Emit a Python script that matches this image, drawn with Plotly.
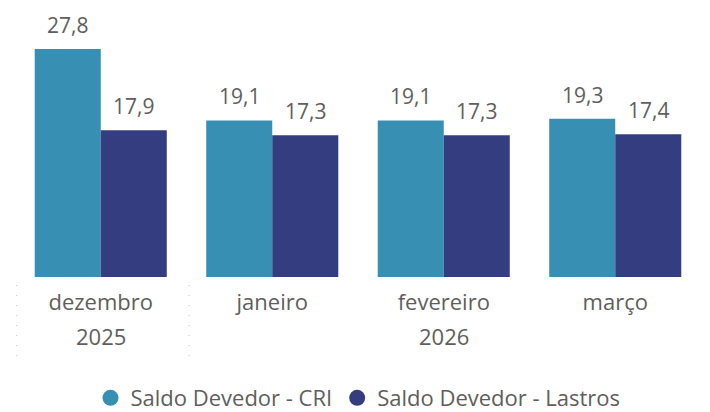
import plotly.graph_objects as go

months = ["dezembro", "janeiro", "fevereiro", "março"]
years = ["2025", "2026"]
year_spans = [[0, 0], [1, 3]]  # category index range per year group
series_names = ["Saldo Devedor - CRI", "Saldo Devedor - Lastros"]
cri = [27.8, 19.1, 19.1, 19.3]
lastros = [17.9, 17.3, 17.3, 17.4]

colors = ["#378FB4", "#343D80"]
text_color = "#605E5C"
font_family = "Open Sans"
fs = 22

idx = list(range(len(months)))
bar_w = 0.385

fig = go.Figure()
series = [cri, lastros]
offsets = [-bar_w, 0.0]
for name, vals, col, off in zip(series_names, series, colors, offsets):
    fig.add_trace(go.Bar(x=idx, y=vals, width=bar_w, offset=off,
                         marker=dict(color=col, line=dict(width=0)),
                         showlegend=False, name=name, hoverinfo="skip"))
    for i, v in zip(idx, vals):
        fig.add_annotation(x=i + off + bar_w / 2, y=v, xref="x", yref="y",
                           text=f"{v:.1f}".replace(".", ","), showarrow=False,
                           yanchor="middle", yshift=24,
                           font=dict(size=21, color=text_color, family=font_family))

# legend entries (circle markers)
for name, col in zip(series_names, colors):
    fig.add_trace(go.Scatter(x=[None], y=[None], mode="markers", name=name,
                             marker=dict(symbol="circle", size=20, color=col)))

# year group labels and separators
for yr, (a, b) in zip(years, year_spans):
    fig.add_annotation(x=(a + b) / 2, y=-0.24, xref="x", yref="paper",
                       text=yr, showarrow=False, yanchor="middle",
                       font=dict(size=fs, color=text_color, family=font_family))
bounds = [-0.49, 0.515, 3.51]
for bx in bounds:
    fig.add_shape(type="line", xref="x", yref="paper", x0=bx, x1=bx,
                  y0=-0.033, y1=-0.33,
                  line=dict(color="#BBBBBB", width=1, dash="1px,9px"))

fig.update_layout(
    width=710, height=412,
    margin=dict(l=14.5, r=9, t=31, b=135, autoexpand=False),
    paper_bgcolor="white", plot_bgcolor="white",
    font=dict(family=font_family, color=text_color, size=fs),
    xaxis=dict(range=[-0.5, 3.5], tickvals=idx, ticktext=months,
               showgrid=False, zeroline=False, showline=False, automargin=False,
               ticklabelstandoff=10,
               tickfont=dict(size=fs, color=text_color, family=font_family), ticks=""),
    yaxis=dict(range=[0, 30], visible=False, showgrid=False, zeroline=False),
    legend=dict(orientation="h", x=0.5, xanchor="center", y=-0.492,
                yanchor="middle",
                font=dict(size=fs, color=text_color, family=font_family),
                itemsizing="trace", tracegroupgap=0),
)

fig.write_html("out.html", config={"displayModeBar": False},
               post_script="document.body.style.margin='0';document.body.style.overflow='hidden';")
